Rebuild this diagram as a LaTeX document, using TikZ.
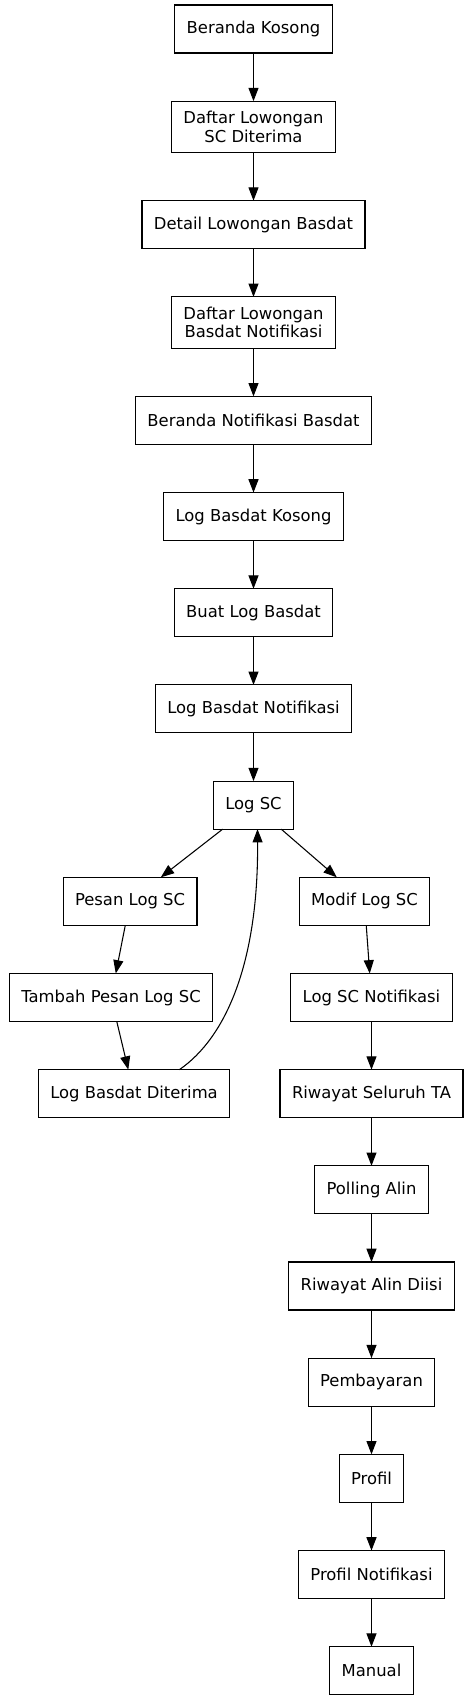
\documentclass[tikz,border=0pt]{standalone}
\usepackage{fontspec}
\setmainfont{DejaVu Sans}
\usepackage{tikz}
\usetikzlibrary{arrows.meta,positioning}

\begin{document}
\begin{tikzpicture}[
 box/.style={draw,line width=0.8pt,outer sep=0pt,align=center,font=\fontsize{12.3}{14}\selectfont,inner xsep=9pt,minimum height=36pt},
 tall/.style={minimum height=38.5pt},
 arr/.style={-{Triangle[length=10pt,width=7.5pt]},line width=0.8pt},
 node distance=0.5in
]
\useasboundingbox (-190.125pt,21.75pt) rectangle (161.625pt,-1250.25pt);
\node[box] (bk) at (0,0) {Beranda Kosong};
\node[box,tall,below=of bk] (dlsc) {Daftar Lowongan\\SC Diterima};
\node[box,below=of dlsc] (dlb) {Detail Lowongan Basdat};
\node[box,tall,below=of dlb] (dlbn) {Daftar Lowongan\\Basdat Notifikasi};
\node[box,below=of dlbn] (bnb) {Beranda Notifikasi Basdat};
\node[box,below=of bnb] (lbk) {Log Basdat Kosong};
\node[box,below=of lbk] (blb) {Buat Log Basdat};
\node[box,below=of blb] (lbn) {Log Basdat Notifikasi};
\node[box,below=of lbn] (logsc) {Log SC};
\node[box,below=of logsc,xshift=-92.6pt] (pesan) {Pesan Log SC};
\node[box,below=of pesan,xshift=-14.25pt] (tambah) {Tambah Pesan Log SC};
\node[box,below=of tambah,xshift=17.25pt] (lbd) {Log Basdat Diterima};
\node[box,below=of logsc,xshift=83.25pt] (modif) {Modif Log SC};
\node[box,below=of modif,xshift=5.25pt] (lscn) {Log SC Notifikasi};
\node[box,below=of lscn] (rst) {Riwayat Seluruh TA};
\node[box,below=of rst] (poll) {Polling Alin};
\node[box,below=of poll] (rad) {Riwayat Alin Diisi};
\node[box,below=of rad] (bayar) {Pembayaran};
\node[box,below=of bayar] (profil) {Profil};
\node[box,below=of profil] (pn) {Profil Notifikasi};
\node[box,below=of pn] (manual) {Manual};
\draw[arr] (bk)--(dlsc); \draw[arr] (dlsc)--(dlb); \draw[arr] (dlb)--(dlbn); \draw[arr] (dlbn)--(bnb); \draw[arr] (bnb)--(lbk);
\draw[arr] (lbk)--(blb); \draw[arr] (blb)--(lbn); \draw[arr] (lbn)--(logsc);
\draw[arr] (logsc)--(pesan); \draw[arr] (pesan)--(tambah); \draw[arr] (tambah)--(lbd);
\draw[arr] (logsc)--(modif); \draw[arr] (modif)--(lscn); \draw[arr] (lscn)--(rst);
\draw[arr] (rst)--(poll); \draw[arr] (poll)--(rad); \draw[arr] (rad)--(bayar); \draw[arr] (bayar)--(profil); \draw[arr] (profil)--(pn); \draw[arr] (pn)--(manual);
\draw[arr] ([xshift=34pt]lbd.north) .. controls +(35pt,24pt) and +(0.75pt,-100pt) .. ([xshift=3pt]logsc.south);
\end{tikzpicture}
\end{document}
